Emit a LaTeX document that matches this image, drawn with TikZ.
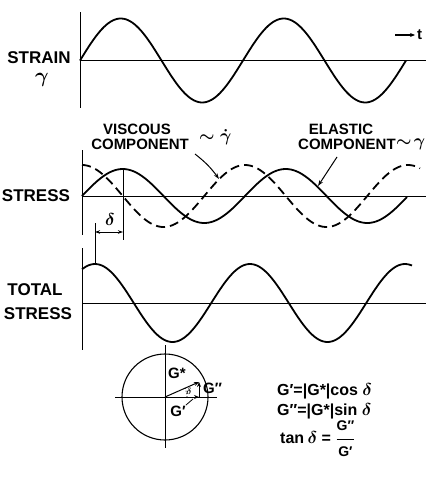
\documentclass[tikz,border=0pt]{standalone}
\usepackage{fontspec}
\setmainfont{Liberation Sans}
\usetikzlibrary{arrows.meta}
\begin{document}
\begin{tikzpicture}[x=1pt,y=-1pt,
  lbl/.style={font=\bfseries\fontsize{15}{15}\selectfont, inner sep=0pt},
  biglbl/.style={font=\bfseries\fontsize{17}{17}\selectfont, inner sep=0pt},
  eq/.style={font=\bfseries\boldmath\fontsize{16}{16}\selectfont, inner sep=0pt, anchor=west},
  greek/.style={inner sep=0pt, font=\boldmath},
  axis/.style={line width=0.9pt},
  curve/.style={line width=1.8pt, line join=round},
  dashcurve/.style={line width=1.8pt, dash pattern=on 9pt off 5pt},
  lead/.style={line width=1pt, -{Stealth[length=6pt,width=4pt]}},
  vec/.style={line width=1pt, -{Stealth[length=5pt,width=4pt]}}]
\useasboundingbox (0,0) rectangle (426,479);

% ---------- strain ----------
\coordinate (a1t) at (80,12);  \coordinate (a1b) at (80,108);
\coordinate (h1l) at (80,60.5); \coordinate (h1r) at (426,60.5);
\draw[axis] (a1t) -- (a1b);
\draw[axis] (h1l) -- (h1r);
\draw[curve] plot[domain=80:406,samples=150,smooth] (\x,{60.5-42*sin((\x-80)*2.2086)});
\node[biglbl] (strain) at (39,58) {STRAIN};
\node[greek, anchor=north] (gam) at (42,73) {\fontsize{22}{22}\selectfont$\gamma$};
\coordinate (ta) at (395,35); \coordinate (tb) at (415,35);
\draw[line width=1.2pt, -{Stealth[length=5pt,width=4pt]}] (ta) -- (tb);
\node[lbl, anchor=west] (t) at (417,35) {t};

% ---------- stress ----------
\coordinate (a2t) at (82,150); \coordinate (a2b) at (82,235);
\coordinate (h2l) at (82,196); \coordinate (h2r) at (426,196);
\draw[axis] (a2t) -- (a2b);
\draw[axis] (h2l) -- (h2r);
\draw[curve] plot[domain=82:407,samples=150,smooth] (\x,{196-27*sin((\x-82)*2.2086)});
\draw[dashcurve] plot[domain=82:420,samples=150,smooth] (\x,{196-31*cos((\x-82)*2.2086)});
\node[biglbl] (stress) at (36,196) {STRESS};
\node[lbl] (visc1) at (137,129) {VISCOUS};
\node[lbl] (visc2) at (140,144) {COMPONENT};
\node[greek, anchor=west] (vgam) at (199,137) {\fontsize{19}{19}\selectfont$\sim\dot\gamma$};
\node[lbl] (el1) at (341,129) {ELASTIC};
\node[lbl, anchor=west] (el2) at (298,144) {COMPONENT};
\node[greek, anchor=west] (egam) at (el2.east) {\fontsize{16}{16}\selectfont$\sim\!\gamma$};
\coordinate (vs) at (195,154); \coordinate (ve) at (219,179);
\draw[lead] (vs) to[bend left=8] (ve);
\coordinate (es) at (337,157); \coordinate (ee) at (318,186);
\draw[lead] (es) -- (ee);

% delta marker
\coordinate (pk) at (123,169); \coordinate (pkb) at (123,240);
\coordinate (tk) at (95,223); \coordinate (tkb) at (95,264);
\draw[line width=0.9pt] (pk) -- (pkb);
\draw[line width=0.9pt] (tk) -- (tkb);
\coordinate (dl) at (95,232); \coordinate (dr) at (123,232);
\draw[line width=1pt, {Stealth[length=5pt,width=3.5pt]}-{Stealth[length=5pt,width=3.5pt]}] (dl) -- (dr);
\node[greek] (del) at (110,219) {\fontsize{16}{16}\selectfont$\delta$};

% ---------- total stress ----------
\coordinate (a3t) at (82,248); \coordinate (a3b) at (82,350);
\coordinate (h3l) at (82,303); \coordinate (h3r) at (426,303);
\draw[axis] (a3t) -- (a3b);
\draw[axis] (h3l) -- (h3r);
\draw[curve] plot[domain=82:412,samples=150,smooth] (\x,{303-39*cos((\x-95)*2.3226)});
\node[biglbl] (tot1) at (35,290) {TOTAL};
\node[biglbl] (tot2) at (38,314) {STRESS};

% ---------- vector diagram ----------
\coordinate (o) at (165,397);
\draw[line width=1.1pt] (o) circle[radius=43];
\coordinate (cl) at (115,397); \coordinate (cr) at (217,397);
\coordinate (ct) at (165,345); \coordinate (cb) at (165,448);
\draw[axis] (cl) -- (cr);
\draw[axis] (ct) -- (cb);
\coordinate (gs) at (199,382); \coordinate (gp) at (199,397);
\draw[vec] (o) -- (gs);
\draw[vec] (gp) -- (gs);
\draw[vec] (o) -- (gp);
\draw[line width=0.8pt, dotted] ([shift={(0:22)}]o) arc[start angle=0, end angle=-24, radius=22];
\node[greek] (sd) at (189,391) {\fontsize{9}{9}\selectfont$\delta$};
\node[lbl] (lgs) at (177,373) {G*};
\node[lbl, anchor=west] (lgpp) at (203,388) {G″};
\node[lbl] (lgp) at (178,411) {G′};
\coordinate (lps) at (186,405); \coordinate (lpe) at (193,399);
\draw[line width=0.8pt] (lps) -- (lpe);

\node[eq] (e1) at (277,391) {G′=|G*|cos $\delta$};
\node[eq] (e2) at (277,411) {G″=|G*|sin $\delta$};
\node[eq] (e3) at (280,439) {tan$\,\delta$ = $\displaystyle\frac{\mbox{\fontsize{14}{14}\selectfont G″}}{\mbox{\fontsize{14}{14}\selectfont G′}}$};
\end{tikzpicture}
\end{document}
